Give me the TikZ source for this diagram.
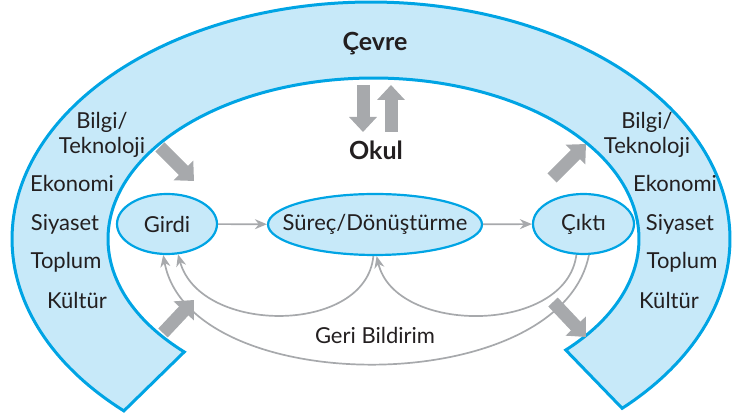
\documentclass[tikz,border=0pt]{standalone}
\usepackage{fontspec}
\setmainfont{Lato}
\usetikzlibrary{arrows.meta,shapes.geometric}
\definecolor{cblue}{RGB}{0,164,228}
\definecolor{cfill}{RGB}{199,233,249}
\definecolor{cgray}{RGB}{167,169,172}
\definecolor{ctext}{RGB}{35,31,32}
\begin{document}
\begin{tikzpicture}[x=1pt,y=-1pt,
  lbl/.style={text=ctext, font=\fontsize{22}{25}\selectfont, align=center, inner sep=0pt},
  ttl/.style={text=ctext, font=\fontsize{25}{28}\selectfont\bfseries, inner sep=0pt},
  proc/.style={ellipse, draw=cblue, line width=2.2pt, fill=cfill, inner sep=0pt, text=ctext, font=\fontsize{22}{25}\selectfont},
  flow/.style={draw=cgray, line width=1.7pt, -{Stealth[length=12pt,width=10pt]}},
  big/.style={draw=cgray, line width=13pt, -{Triangle[length=15pt,width=27pt]}}
]
\useasboundingbox (0,0) rectangle (732,419);
% environment arch
\draw[fill=cfill, draw=cblue, line width=3pt, line join=miter]
  plot[domain=133.5:405.6, samples=200] ({371+359*cos(\x)},{239+237*sin(\x)})
  -- plot[domain=0:1, samples=200] ({373.5+265.5*cos(43.6-268.4*\x)},{239+161*sin(43.6-268.4*\x)})
  -- cycle;

\node[ttl] (cevre) at (375,44) {Çevre};
\node[ttl] (okul) at (376,150) {Okul};

% side labels
\node[lbl] (lbt) at (102,134.5) {Bilgi/\\Teknoloji};
\node[lbl] (lek) at (72,183) {Ekonomi};
\node[lbl] (lsi) at (65,224) {Siyaset};
\node[lbl] (lto) at (66,262) {Toplum};
\node[lbl] (lku) at (77,300) {Kültür};
\node[lbl] (rbt) at (647,134.5) {Bilgi/\\Teknoloji};
\node[lbl] (rek) at (675,183) {Ekonomi};
\node[lbl] (rsi) at (680,224) {Siyaset};
\node[lbl] (rto) at (682,262) {Toplum};
\node[lbl] (rku) at (669,300) {Kültür};

% process nodes
\node[proc, minimum width=100pt, minimum height=60pt] (girdi) at (167,224) {Girdi};
\node[proc, inner xsep=-20pt, minimum width=214pt, minimum height=61pt] (surec) at (375,224.5) {Süreç/Dönüştürme};
\node[proc, minimum width=101pt, minimum height=60pt] (cikti) at (583.5,224) {Çıktı};

\draw[flow] (girdi) -- (surec);
\draw[flow] (surec) -- (cikti);

% feedback
\draw[flow] (surec.-93) .. controls (366,335) and (200,335) .. (girdi.-70);
\draw[flow] (cikti.-103) .. controls (566,335) and (395,335) .. (surec.-87);
\draw[flow] (cikti.-80) .. controls (560,400) and (190,400) .. (girdi.-97);
\node[lbl] (geri) at (375,335) {Geri Bildirim};

% big arrows
\coordinate (a1s) at (160,147); \coordinate (a1e) at (194,181);
\coordinate (a2s) at (163,333); \coordinate (a2e) at (194,300);
\coordinate (a3s) at (552,178); \coordinate (a3e) at (586,144);
\coordinate (a4s) at (553,302); \coordinate (a4e) at (586,337);
\coordinate (a5s) at (363,85); \coordinate (a5e) at (363,132);
\coordinate (a6s) at (391,132); \coordinate (a6e) at (391,85);
\draw[big] (a1s) -- (a1e);
\draw[big] (a2s) -- (a2e);
\draw[big] (a3s) -- (a3e);
\draw[big] (a4s) -- (a4e);
\draw[big] (a5s) -- (a5e);
\draw[big] (a6s) -- (a6e);
\end{tikzpicture}
\end{document}
